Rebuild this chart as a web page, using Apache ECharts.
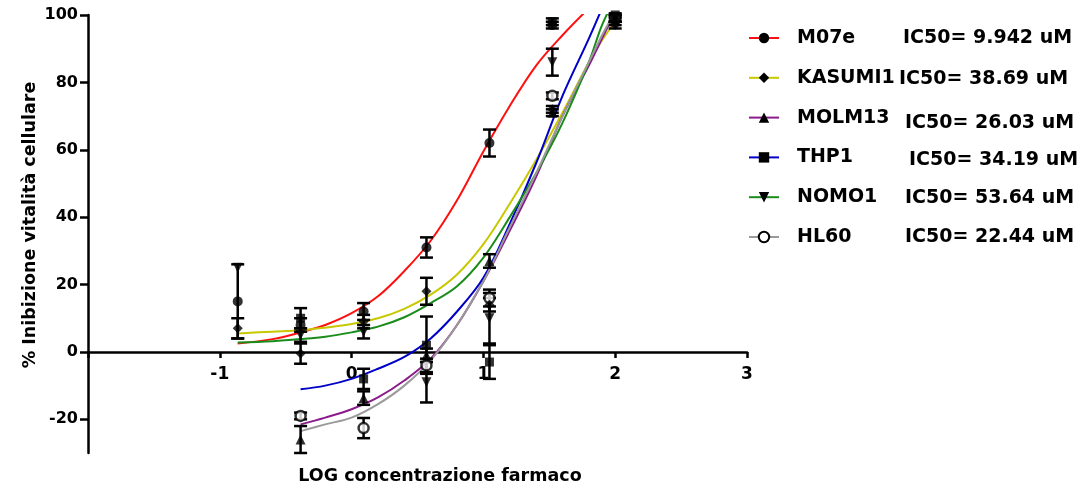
<!DOCTYPE html>
<html>
<head>
<meta charset="utf-8">
<script src="https://cdn.jsdelivr.net/npm/echarts@6/dist/echarts.min.js"></script>
<style>html,body{margin:0;padding:0;background:#fff}#c{width:1080px;height:489px}</style>
</head>
<body>
<div id="c"></div>
<script>
// ---- data ----
const doseLog = [-0.864, -0.387, 0.091, 0.568, 1.046, 1.523, 2.0];
const curveX  = [-0.864, -0.6, -0.387, -0.2, 0, 0.2, 0.4, 0.6, 0.8, 1.0, 1.2, 1.4, 1.6, 1.8, 1.9, 2.0];
const yTicks = [-20, 0, 20, 40, 60, 80, 100];
const xTicks = [-1, 0, 1, 2, 3];

const names = ['M07e', 'KASUMI1', 'MOLM13', 'THP1', 'NOMO1', 'HL60'];
const ic50Labels = ['IC50= 9.942 uM', 'IC50= 38.69 uM', 'IC50= 26.03 uM', 'IC50= 34.19 uM', 'IC50= 53.64 uM', 'IC50= 22.44 uM'];

const m07eMean    = [15, 8, 12, 31, 62, 97, 98];
const m07eErr     = [11, 2, 2.5, 3, 4, 1, 1];
const kasumi1Mean = [7, -0.5, 9, 18, 14, 72, 97];
const kasumi1Err  = [3, 3, 2, 4, 2, 1, 1];
const molm13Mean  = [null, -26, -13.7, -1, 27, 71, 99];
const molm13Err   = [null, 4, 2, 2, 2, 1, 1];
const thp1Mean    = [null, 10, -8, 2, -3, 98, 100];
const thp1Err     = [null, 3, 3, 8.5, 5, 1, 0.5];
const nomo1Mean   = [25, 5, 6, -9, 10, 86, 99];
const nomo1Err    = [0, 2, 2, 6, 7.5, 4, 1];
const hl60Mean    = [null, -19, -22.6, -4, 16, 76, 99];
const hl60Err     = [null, 1, 3, 2, 2.5, 1, 1];

// fitted curves as drawn in the reference (sampled at curveX)
const m07eCurve    = [2.5, 3.8, 5.8, 8, 11.5, 16.5, 24, 33, 45, 59.5, 73, 85, 94, 102, null, null];
const kasumi1Curve = [5.5, 6.0, 6.4, 7.2, 8.3, 10, 12.8, 17, 23, 32, 44, 57, 71, 86, 92.5, 98];
const molm13Curve  = [null, null, -21.5, -19.5, -17, -13.5, -8.5, -2, 8, 21, 36, 52, 70, 85, 93, 101];
const thp1Curve    = [null, null, -11.1, -10, -8, -5, -1.5, 4, 12, 22, 38, 56, 76, 93, 102, null];
const nomo1Curve   = [2.8, 3.2, 3.8, 4.5, 5.8, 7.5, 10.3, 14.5, 19.5, 28, 40, 53, 68, 86, 97, 105];
const hl60Curve    = [null, null, -23.5, -21.5, -19.5, -15.5, -10, -2.5, 8, 21, 37, 53, 70, 86, 94, 101];

// ---- styling ----
const FONT = 'DejaVu Sans';
const colors = ['#ff1010', '#c8c800', '#8b1a8b', '#0000c8', '#1a8c1a', '#9a9a9a'];
const downTri = 'path://M0,0 L10,0 L5,9 Z';
const symbols = ['circle', 'diamond', 'triangle', 'rect', downTri, 'circle'];
const means = [m07eMean, kasumi1Mean, molm13Mean, thp1Mean, nomo1Mean, hl60Mean];
const errs = [m07eErr, kasumi1Err, molm13Err, thp1Err, nomo1Err, hl60Err];
const curves = [m07eCurve, kasumi1Curve, molm13Curve, thp1Curve, nomo1Curve, hl60Curve];

const series = [];
names.forEach((n, i) => {
  const itemStyle = i === 5 ? {color: '#fff', borderColor: '#000', borderWidth: 2} : {color: '#000'};
  series.push({
    name: n, type: 'line', smooth: 0.35, showSymbol: false, symbol: symbols[i], symbolSize: 10,
    clip: true, connectNulls: false, z: 2,
    lineStyle: {color: colors[i], width: 2},
    itemStyle: itemStyle,
    data: curveX.map((x, k) => [x, curves[i][k]])
  });
});
const errData = [];
names.forEach((n, i) => {
  doseLog.forEach((x, k) => {
    if (means[i][k] !== null && errs[i][k] > 0) errData.push([x, means[i][k], errs[i][k]]);
  });
});
series.push({
  name: 'err', type: 'custom', z: 3, clip: false,
  data: errData,
  renderItem: (params, api) => {
    const x = api.value(0), y = api.value(1), e = api.value(2);
    const top = api.coord([x, y + e]), bot = api.coord([x, y - e]);
    const w = 6.5;
    const st = {stroke: '#000', lineWidth: 2.5};
    return {type: 'group', children: [
      {type: 'line', shape: {x1: top[0], y1: top[1], x2: bot[0], y2: bot[1]}, style: st},
      {type: 'line', shape: {x1: top[0] - w, y1: top[1], x2: top[0] + w, y2: top[1]}, style: st},
      {type: 'line', shape: {x1: bot[0] - w, y1: bot[1], x2: bot[0] + w, y2: bot[1]}, style: st}
    ]};
  }
});
// draw HL60 first so filled symbols sit on top, as in the reference
[5, 0, 1, 2, 4, 3].forEach((i) => {
  const itemStyle = i === 5 ? {color: '#fff', borderColor: '#000', borderWidth: 2.5} : {color: '#000'};
  series.push({
    name: names[i] + ' data', type: 'scatter', symbol: symbols[i], symbolSize: i === 3 ? 9 : 10,
    z: 4,
    itemStyle: itemStyle,
    data: doseLog.map((x, k) => means[i][k] === null ? null : [x, means[i][k]]).filter(d => d)
  });
});

const ic50X = [903, 899, 905, 909, 905, 905];
const ic50Y = [38, 79, 123, 160, 198, 237];
const graphic = ic50Labels.map((t, i) => ({
  type: 'text', x: ic50X[i], y: ic50Y[i],
  style: {text: t, fill: '#000', fontFamily: FONT, fontWeight: 'bold', fontSize: 19, verticalAlign: 'middle'}
}));
graphic.push({
  type: 'text', x: 440, y: 476,
  style: {text: 'LOG concentrazione farmaco', fill: '#000', fontFamily: FONT, fontWeight: 'bold', fontSize: 17.5, align: 'center', verticalAlign: 'middle'}
});
graphic.push({
  type: 'text', x: 30, y: 225, rotation: Math.PI / 2,
  style: {text: '% Inibizione vitalità cellulare', fill: '#000', fontFamily: FONT, fontWeight: 'bold', fontSize: 17.5, align: 'center', verticalAlign: 'middle'}
});

const axisLineStyle = {color: '#000', width: 2.5};
const option = {
  animation: false,
  backgroundColor: '#fff',
  grid: {left: 88, right: 333, top: 15, bottom: 36, containLabel: false},
  xAxis: {
    type: 'value', min: -2, max: 3, interval: 1,
    axisLine: {show: true, onZero: true, lineStyle: axisLineStyle},
    axisTick: {show: true, length: 6, lineStyle: axisLineStyle},
    axisLabel: {show: false},
    splitLine: {show: false}
  },
  yAxis: {
    type: 'value', min: -30, max: 100,
    axisLine: {show: true, onZero: false, lineStyle: axisLineStyle},
    axisTick: {show: true, length: 8, lineStyle: axisLineStyle, customValues: yTicks},
    axisLabel: {customValues: yTicks, color: '#000', fontFamily: FONT, fontWeight: 'bold', fontSize: 16, margin: 10},
    splitLine: {show: false}
  },
  legend: {
    orient: 'vertical', left: 748, top: 28, padding: 0, itemWidth: 30, itemHeight: 13, itemGap: 19.8,
    data: names, selectedMode: false,
    textStyle: {color: '#000', fontFamily: FONT, fontWeight: 'bold', fontSize: 19, lineHeight: 20, padding: [0, 0, 0, 13]}
  },
  graphic: graphic,
  series: series
};
const chart = echarts.init(document.getElementById('c'), null, {renderer: 'canvas'});
chart.setOption(option);

// x tick labels sit just under the zero line (axis crosses at y = 0); positions come from the axis scale
const y0 = chart.convertToPixel({yAxisIndex: 0}, 0);
const xLabelGraphics = xTicks.map(v => ({
  type: 'text',
  x: chart.convertToPixel({xAxisIndex: 0}, v),
  y: y0 + 23,
  style: {text: String(v), fill: '#000', fontFamily: FONT, fontWeight: 'bold', fontSize: 17, align: 'center', verticalAlign: 'middle'}
}));
chart.setOption({graphic: graphic.concat(xLabelGraphics)});
</script>
</body>
</html>
